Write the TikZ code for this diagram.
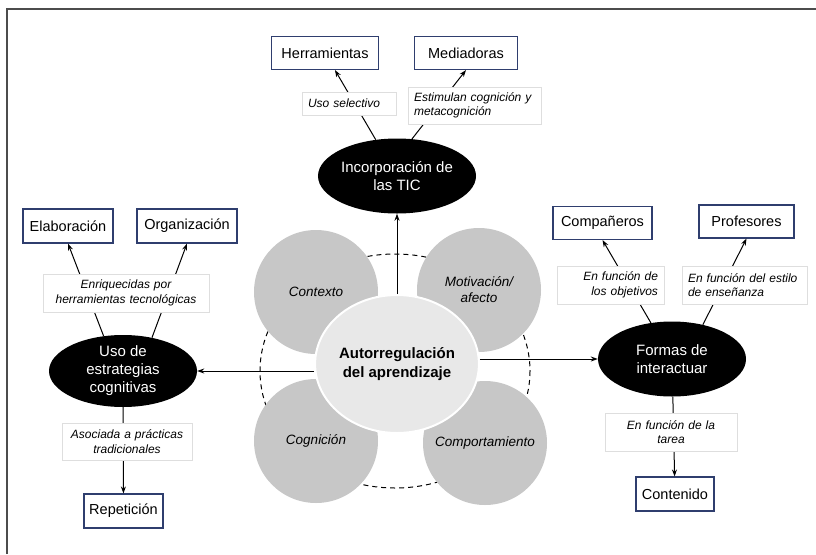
\documentclass[tikz,border=0pt]{standalone}
\usepackage{fontspec}
\setmainfont{Liberation Sans}
\usetikzlibrary{arrows.meta,shapes.geometric}
\definecolor{azulmarco}{HTML}{2F3E6E}

\begin{document}
\begin{tikzpicture}[x=1pt,y=-1pt,
  concepto/.style={draw=azulmarco,line width=1.1pt,fill=white,minimum height=33pt,inner xsep=4pt,font=\fontsize{14.5}{17}\selectfont},
  etiqueta/.style={draw=black!13,line width=0.8pt,fill=white,inner xsep=6pt,inner ysep=2pt,font=\fontsize{12}{14.5}\selectfont\itshape},
  eje/.style={ellipse,fill=black,text=white,inner sep=0pt,minimum width=148pt,minimum height=75pt,align=center,font=\fontsize{15}{18}\selectfont},
  factor/.style={circle,fill=\colgris,minimum size=124pt,inner sep=0pt,align=center,font=\fontsize{13.5}{16}\selectfont\itshape},
  flecha/.style={line width=1pt,-{Stealth[length=7pt,width=5pt]}}]
\def\colgris{black!22}
\useasboundingbox (0,0) rectangle (816,554);

\draw[black!70,line width=1.3pt](7,554)--(7,9)--(816,9);

\draw[line width=1pt,dash pattern=on 5pt off 4pt](395,371) ellipse [x radius=135,y radius=117];

\node[factor] (contexto) at (316,292) {Contexto};
\node[factor] (motiv) at (479,290) {Motivación/\\afecto};
\node[factor] (cognic) at (316,441) {Cognición};
\node[factor] (comport) at (485,443) {Comportamiento};
\node[ellipse,fill=black!9,draw=white,line width=2pt,minimum width=148pt,minimum height=138pt,inner sep=0pt,align=center,
  font=\fontsize{15}{18.5}\selectfont\bfseries] (central) at (397,364) {Autorregulación\\del aprendizaje};

\node[eje,minimum width=150pt] (tic) at (397,176) {Incorporación de\\las TIC};
\node[eje,minimum height=72pt] (uso) at (123,371) {Uso de\\estrategias\\cognitivas};
\node[eje] (formas) at (672,359) {Formas de\\interactuar};

\node[concepto,minimum width=107pt] (herr) at (325,53) {Herramientas};
\node[concepto,minimum width=103pt] (medi) at (466,53) {Mediadoras};
\node[concepto,minimum width=90pt,minimum height=34pt] (elab) at (68,226) {Elaboración};
\node[concepto,minimum width=100pt,minimum height=34pt] (organ) at (187,226) {Organización};
\node[concepto,minimum width=79pt,minimum height=34pt] (repet) at (123.5,511) {Repetición};
\node[concepto,minimum width=99pt] (compa) at (602.5,223) {Compañeros};
\node[concepto,minimum width=95pt] (profe) at (746.5,221.5) {Profesores};
\node[concepto,minimum width=78pt,minimum height=34pt] (conten) at (675,494) {Contenido};

\draw[flecha](central)--(tic);
\draw[flecha](central.west |- uso)--(uso);
\draw[flecha](central.east |- formas)--(formas);

\draw[flecha](tic)--(herr);
\draw[flecha](tic.68)--(medi.south);
\draw[flecha](uso.119)--(elab.south);
\draw[flecha](uso.49)--(organ.south);
\draw[flecha](uso)--(repet);
\draw[flecha](formas)--(compa.south);
\draw[flecha](formas.48)--(profe.south);
\draw[flecha](formas)--(conten);

\node[etiqueta,text width=82pt,align=left,minimum height=23pt] (lsel) at (349,103.5) {Uso selectivo};
\node[etiqueta,text width=121pt,align=left,minimum height=37pt] (lestim) at (474.5,105.5) {Estimulan cognición y\\metacognición};
\node[etiqueta,text width=154pt,align=center,minimum height=38pt] (lenriq) at (126,293) {Enriquecidas por\\herramientas tecnológicas};
\node[etiqueta,text width=118pt,align=center,minimum height=37pt] (lasoc) at (127,441.5) {Asociada a prácticas\\tradicionales};
\node[etiqueta,text width=95pt,align=right,minimum height=38pt] (lobjet) at (610.5,285) {En función de\\los objetivos};
\node[etiqueta,text width=113pt,align=left,minimum height=38pt] (lestilo) at (744.5,285) {En función del estilo\\de enseñanza};
\node[etiqueta,text width=120pt,align=center,minimum height=38pt] (ltarea) at (671,432) {En función de la\\tarea};

\end{tikzpicture}
\end{document}
